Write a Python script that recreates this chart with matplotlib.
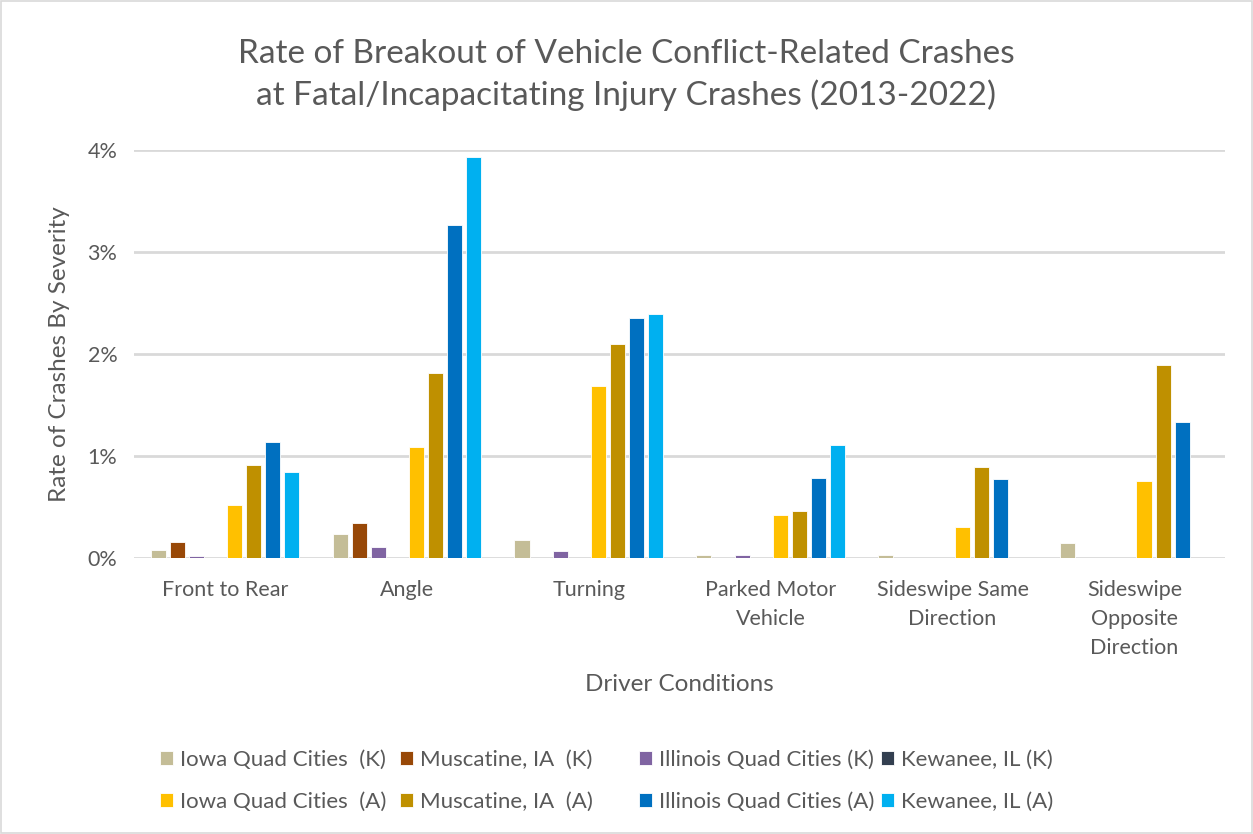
import numpy as np
import matplotlib
matplotlib.use("Agg")
import matplotlib.pyplot as plt
from matplotlib.patches import Rectangle

plt.rcParams['font.family'] = ['Lato', 'DejaVu Sans']

categories = ["Front to Rear", "Angle", "Turning", "Parked Motor\nVehicle",
              "Sideswipe Same\nDirection", "Sideswipe\nOpposite\nDirection"]

series_names = ["Iowa Quad Cities  (K)", "Muscatine, IA  (K)", "Illinois Quad Cities (K)", "Kewanee, IL (K)",
                "Iowa Quad Cities  (A)", "Muscatine, IA  (A)", "Illinois Quad Cities (A)", "Kewanee, IL (A)"]
colors = ["#C4BD97", "#984807", "#8064A2", "#333F50",
          "#FFC000", "#BF9000", "#0070C0", "#00B0F0"]

# values in percent
iowa_k = [0.08, 0.23, 0.18, 0.03, 0.03, 0.15]
musc_k = [0.16, 0.34, 0.0, 0.0, 0.0, 0.0]
ill_k = [0.02, 0.11, 0.07, 0.03, 0.0, 0.0]
kew_k = [0.0, 0.0, 0.0, 0.0, 0.0, 0.0]
iowa_a = [0.52, 1.09, 1.69, 0.42, 0.30, 0.75]
musc_a = [0.91, 1.81, 2.10, 0.46, 0.89, 1.89]
ill_a = [1.14, 3.27, 2.35, 0.78, 0.77, 1.33]
kew_a = [0.84, 3.93, 2.39, 1.11, 0.0, 0.0]

data = [iowa_k, musc_k, ill_k, kew_k, iowa_a, musc_a, ill_a, kew_a]

fig = plt.figure(figsize=(12.53, 8.34), dpi=100)
ax = fig.add_axes([0.107, 0.331, 0.871, 0.489])

x = np.arange(len(categories))
slot = 0.105
barw = 0.083
handles = []
for i, (vals, col, name) in enumerate(zip(data, colors, series_names)):
    off = (i - 3.5) * slot
    b = ax.bar(x + off, vals, width=barw, color=col, edgecolor='white', linewidth=0.6,
               label=name, zorder=3)
    handles.append(b)

ax.set_xlim(-0.5, len(categories) - 0.5)
ax.set_ylim(0, 4)
ax.set_yticks([0, 1, 2, 3, 4])
ax.set_yticklabels([f"{v}%" for v in range(5)])
ax.yaxis.grid(True, color='#D9D9D9', linewidth=2, zorder=0)
ax.set_axisbelow(True)
for s in ax.spines.values():
    s.set_visible(False)
ax.tick_params(axis='both', length=0, colors='#595959', labelsize=15.5)
ax.tick_params(axis='x', pad=16)
ax.tick_params(axis='y', pad=12)
ax.set_xticks(x)
ax.set_xticklabels(categories, linespacing=1.55, va='top')

ax.set_ylabel("Rate of Crashes By Severity", fontsize=17.5, color='#595959', va='center')
ax.yaxis.set_label_coords(-0.068, 0.5)
ax.set_xlabel("Driver Conditions", fontsize=17.5, color='#595959', va='center')
ax.xaxis.set_label_coords(0.5, -0.311)

fig.text(0.5, 0.910, "Rate of Breakout of Vehicle Conflict-Related Crashes\nat Fatal/Incapacitating Injury Crashes (2013-2022)",
         ha='center', va='center', fontsize=24, color='#595959', linespacing=1.42)

# legend: equal-width columns like Excel, K on first row, A on second
col_x = [0.1277, 0.3192, 0.5100, 0.7031]
for c in range(4):
    fig.legend([handles[c], handles[c + 4]], [series_names[c], series_names[c + 4]],
               loc='center left', bbox_to_anchor=(col_x[c], 0.0635), frameon=False,
               fontsize=16, labelcolor='#595959', handlelength=0.6, handleheight=0.6,
               handletextpad=0.3, labelspacing=1.0, borderpad=0, borderaxespad=0)

fig.patches.append(Rectangle((0.001, 0.001), 0.998, 0.998, transform=fig.transFigure,
                             fill=False, edgecolor='#D9D9D9', linewidth=1.2))

fig.savefig("out.png", dpi=100)
